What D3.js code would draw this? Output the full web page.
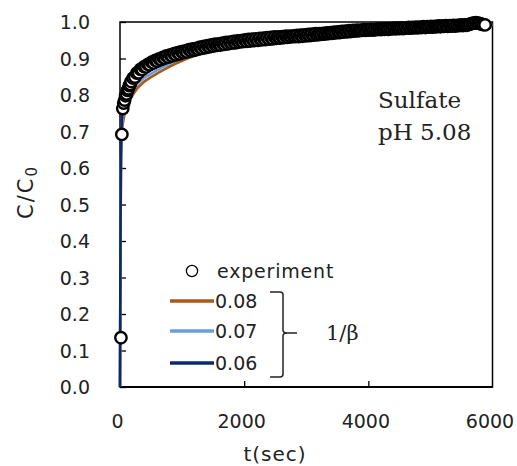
<!DOCTYPE html>
<html>
<head>
<meta charset="utf-8">
<script src="https://cdn.jsdelivr.net/npm/d3@7"></script>
<style>
  html, body { margin: 0; padding: 0; background: #fff; }
  svg { display: block; }
  .lbl { font-family: "DejaVu Sans", Verdana, sans-serif; font-size: 19px; fill: #222; }
  .serif { font-family: "DejaVu Serif", "Liberation Serif", serif; fill: #222; }
</style>
</head>
<body>
<svg id="chart" width="517" height="466"></svg>
<script>
// tick values
const xTicks = [0, 2000, 4000, 6000];
const yTicks = [0, 0.1, 0.2, 0.3, 0.4, 0.5, 0.6, 0.7, 0.8, 0.9, 1.0];

// experiment (sec, C/C0)
const expTime = [15, 30, 45, 60, 75, 90, 105, 120, 135, 150, 165, 180,
  210, 240, 270, 300, 330, 360, 390, 420, 450, 480, 510, 540, 570, 600, 630, 660, 690, 720, 750, 780,
  810, 840, 870, 900, 930, 960, 990, 1020, 1050, 1080, 1110, 1140, 1170, 1200, 1230, 1260, 1290, 1320,
  1350, 1380, 1410, 1440, 1470, 1500, 1530, 1560, 1590, 1620, 1650, 1680, 1710, 1740, 1770, 1800, 1830,
  1860, 1890, 1920, 1950, 1980, 2010, 2040, 2070, 2100, 2130, 2160, 2190, 2220, 2250, 2280, 2310, 2340,
  2370, 2400, 2430, 2460, 2490, 2520,
  2550, 2580, 2610, 2640, 2670, 2700, 2730, 2760, 2790, 2820, 2850, 2880, 2910, 2940, 2970, 3000, 3030,
  3060, 3090, 3120, 3150, 3180, 3210, 3240, 3270, 3300, 3330, 3360, 3390, 3420, 3450, 3480, 3510, 3540,
  3570, 3600, 3630, 3660, 3690, 3720, 3750, 3780, 3810, 3840, 3870, 3900, 3930, 3960, 3990, 4020, 4050,
  4080, 4110, 4140, 4170, 4200, 4230, 4260, 4290, 4320, 4350, 4380, 4410, 4440, 4470, 4500, 4530, 4560,
  4590, 4620, 4650, 4680, 4710, 4740, 4770, 4800, 4830, 4860, 4890, 4920, 4950, 4980, 5010, 5040, 5070,
  5100, 5130, 5160, 5190, 5220, 5250, 5280, 5310, 5340, 5370, 5400, 5430, 5460, 5490, 5520, 5550, 5580,
  5610, 5640, 5670, 5700, 5730, 5760, 5790, 5820, 5850, 5880];
const expConc = [0.135, 0.692, 0.763, 0.778, 0.786, 0.798, 0.803, 0.813, 0.817, 0.826, 0.829, 0.837,
  0.846, 0.849, 0.860, 0.861, 0.870, 0.870, 0.878, 0.877, 0.884, 0.883, 0.890, 0.888, 0.895, 0.893, 0.899,
  0.897, 0.903, 0.901, 0.907, 0.904, 0.910, 0.907, 0.913, 0.910, 0.916, 0.913, 0.919, 0.916, 0.921, 0.918,
  0.924, 0.921, 0.926, 0.923, 0.928, 0.926, 0.931, 0.928, 0.933, 0.930, 0.935, 0.932, 0.937, 0.934, 0.939,
  0.936, 0.940, 0.937, 0.942, 0.939, 0.944, 0.940, 0.945, 0.942, 0.947, 0.943, 0.948, 0.945, 0.949, 0.946,
  0.951, 0.947, 0.952, 0.948, 0.953, 0.949, 0.954, 0.950, 0.955, 0.951, 0.956, 0.952, 0.957, 0.953, 0.958,
  0.954, 0.959, 0.955,
  0.959, 0.956, 0.960, 0.957, 0.961, 0.958, 0.961, 0.959, 0.962, 0.960, 0.963, 0.960, 0.964, 0.961, 0.965,
  0.962, 0.966, 0.963, 0.967, 0.964, 0.968, 0.965, 0.968, 0.966, 0.969, 0.967, 0.970, 0.968, 0.971, 0.969,
  0.972, 0.970, 0.973, 0.971, 0.974, 0.972, 0.975, 0.973, 0.976, 0.974, 0.977, 0.975, 0.978, 0.976, 0.978,
  0.977, 0.979, 0.977, 0.979, 0.978, 0.980, 0.978, 0.980, 0.979, 0.981, 0.979, 0.981, 0.980, 0.982, 0.980,
  0.982, 0.981, 0.983, 0.981, 0.983, 0.982, 0.984, 0.982, 0.984, 0.983, 0.985, 0.983, 0.985, 0.984, 0.986,
  0.984, 0.986, 0.985, 0.987, 0.985, 0.987, 0.986, 0.988, 0.986, 0.988, 0.987, 0.989, 0.987, 0.989, 0.988,
  0.990, 0.988, 0.990, 0.989, 0.991, 0.989, 0.991, 0.990, 0.992, 0.990, 0.992, 0.991, 0.993, 0.994, 0.996,
  0.997, 0.998, 0.997, 0.996, 0.994, 0.993, 0.992];

// model curves, 1/beta = 0.08, 0.07, 0.06
const fitTime = [0, 8, 15, 30, 45, 60, 90, 120, 180, 240, 300, 400, 500, 600, 800, 1000, 1300, 1600, 2000, 2500,
  3000, 4000, 5000, 6000];
const fit008 = [0, 0.38, 0.59, 0.69, 0.72, 0.736, 0.757, 0.772, 0.793, 0.809, 0.822, 0.838, 0.849, 0.859, 0.878,
  0.894, 0.912, 0.925, 0.937, 0.948, 0.956, 0.972, 0.984, 0.992];
const fit007 = [0, 0.40, 0.61, 0.71, 0.737, 0.752, 0.772, 0.786, 0.806, 0.822, 0.834, 0.848, 0.858, 0.868, 0.886,
  0.901, 0.917, 0.930, 0.941, 0.951, 0.959, 0.974, 0.985, 0.992];
const fit006 = [0, 0.42, 0.64, 0.73, 0.76, 0.775, 0.795, 0.810, 0.834, 0.851, 0.863, 0.877, 0.887, 0.895, 0.907,
  0.918, 0.930, 0.939, 0.948, 0.957, 0.963, 0.977, 0.985, 0.992];
const fitLabels = ["0.08", "0.07", "0.06"];
const fitColors = ["#a85a1e", "#6a9fd6", "#0d2a66"];

const svg = d3.select("#chart");
const m = { left: 120, right: 492.5, top: 22, bottom: 387 };

const x = d3.scaleLinear().domain([0, 6000]).range([m.left, m.right]);
const y = d3.scaleLinear().domain([0, 1]).range([m.bottom, m.top]);

// frame
svg.append("rect")
  .attr("x", m.left).attr("y", m.top)
  .attr("width", m.right - m.left).attr("height", m.bottom - m.top)
  .attr("fill", "none").attr("stroke", "#000").attr("stroke-width", 1.5);
svg.append("line")
  .attr("x1", m.left).attr("x2", m.right).attr("y1", m.bottom).attr("y2", m.bottom)
  .attr("stroke", "#000").attr("stroke-width", 2.2);

// inward ticks
const yAxis = svg.append("g").attr("transform", `translate(${m.left},0)`)
  .call(d3.axisLeft(y).tickValues(yTicks).tickSize(-6).tickFormat(d3.format(".1f")));
yAxis.select(".domain").remove();
yAxis.selectAll("line").attr("stroke", "#000").attr("stroke-width", 1.3);
yAxis.selectAll("text").attr("class", "lbl").attr("x", -30).attr("dy", "0.36em");

const xAxis = svg.append("g").attr("transform", `translate(0,${m.bottom})`)
  .call(d3.axisBottom(x).tickValues(xTicks).tickSize(-6).tickFormat(d3.format("d")));
xAxis.select(".domain").remove();
xAxis.selectAll("line").attr("stroke", "#000").attr("stroke-width", 1.3)
  .attr("display", (d) => (d === 0 || d === 6000) ? "none" : null);
xAxis.selectAll("text").attr("class", "lbl").attr("y", 41).attr("dy", null).attr("dx", -3);

// model lines
const fits = [fit008, fit007, fit006];
const line = d3.line().x((d) => x(d[0])).y((d) => y(d[1])).curve(d3.curveMonotoneX);
fits.forEach((vals, i) => {
  svg.append("path")
    .datum(fitTime.map((t, k) => [t, vals[k]]))
    .attr("d", line)
    .attr("fill", "none")
    .attr("stroke", fitColors[i])
    .attr("stroke-width", 2.6);
});

// experiment circles
svg.append("g")
  .selectAll("circle")
  .data(expTime.map((t, k) => [t, expConc[k]]))
  .join("circle")
  .attr("cx", (d) => x(d[0]))
  .attr("cy", (d) => y(d[1]))
  .attr("r", 5.7)
  .attr("fill", "#fff")
  .attr("stroke", "#000")
  .attr("stroke-width", 2.4);

// axis titles
svg.append("text")
  .attr("x", 275).attr("y", 461)
  .attr("text-anchor", "middle")
  .attr("class", "lbl")
  .style("font-size", "20px")
  .style("letter-spacing", "1px")
  .text("t(sec)");

const yt = svg.append("text")
  .attr("transform", "translate(33,193) rotate(-90)")
  .attr("text-anchor", "middle")
  .attr("class", "lbl")
  .style("font-size", "21px");
yt.append("tspan").style("letter-spacing", "2px").text("C/C");
yt.append("tspan").attr("baseline-shift", "-25%").style("font-size", "15px").text("0");

// annotation
svg.append("text").attr("class", "serif").attr("x", 378).attr("y", 108)
  .style("font-size", "23px").text("Sulfate");
svg.append("text").attr("class", "serif").attr("x", 378).attr("y", 140)
  .style("font-size", "23px").text("pH 5.08");

// legend
svg.append("circle").attr("cx", 192).attr("cy", 271).attr("r", 5.6)
  .attr("fill", "#fff").attr("stroke", "#000").attr("stroke-width", 1.3);
svg.append("text").attr("class", "lbl").attr("x", 217).attr("y", 278)
  .style("letter-spacing", "0.8px").text("experiment");

const legY = [301, 331, 363];
fitLabels.forEach((lab, i) => {
  svg.append("line")
    .attr("x1", 170).attr("x2", 214).attr("y1", legY[i]).attr("y2", legY[i])
    .attr("stroke", fitColors[i]).attr("stroke-width", 3.4);
  svg.append("text").attr("class", "lbl").attr("x", 215).attr("y", legY[i] + 7).text(lab);
});

// brace
svg.append("path")
  .attr("d", "M270,292 L280,292 Q283,292 283,295 L283,330 Q283,333 287,333 L297,333 M287,333 Q283,333 283,336 L283,374 Q283,377 280,377 L270,377")
  .attr("fill", "none").attr("stroke", "#222").attr("stroke-width", 1.5);

svg.append("text").attr("class", "serif").attr("x", 326).attr("y", 340)
  .style("font-size", "21px").text("1/β");
</script>
</body>
</html>
